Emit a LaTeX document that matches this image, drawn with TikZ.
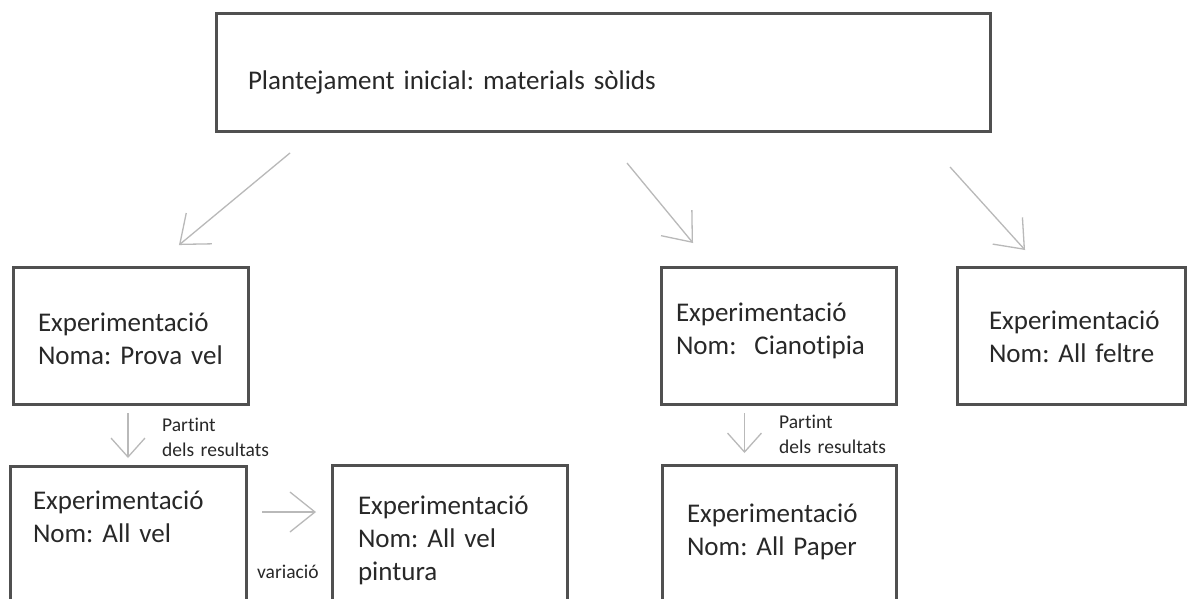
\documentclass[tikz,border=0pt]{standalone}
\usepackage{fontspec}
\setmainfont{Carlito}[Ligatures=NoCommon, WordSpace=0.8]
\usepackage{xcolor}
\usepackage{tikz}
\usetikzlibrary{arrows.meta, positioning, calc}
\definecolor{boxgrey}{RGB}{80,80,80}
\definecolor{textgrey}{RGB}{40,40,40}
\definecolor{arrowgrey}{RGB}{185,185,185}
\newcommand{\boxfont}{\fontsize{27}{33}\selectfont\frenchspacing}
\newcommand{\notefont}{\fontsize{19.5}{25}\selectfont\frenchspacing}
\hyphenpenalty=10000
\exhyphenpenalty=10000
\tikzset{
  expbox/.style={rectangle, draw=boxgrey, line width=3pt, outer sep=0pt, inner ysep=0pt, anchor=north west, align=left, font=\boxfont, text=textgrey},
  note/.style={anchor=base west, inner sep=0pt, align=left, text width=130pt, font=\notefont, text=textgrey},
  bigarrow/.style={-{Straight Barb[length=25pt,width=40pt]}, draw=arrowgrey, line width=1.3pt},
  smallarrow/.style={-{Straight Barb[length=19pt,width=34pt]}, draw=arrowgrey, line width=1.3pt},
}
\begin{document}
\begin{tikzpicture}[x=1pt, y=-1pt]
\useasboundingbox (0,0) rectangle (1189,598);
\fill[white] (0,0) rectangle (1189,598);
% boxes
\node (root)    [expbox, inner xsep=32pt, text width=710pt, text height=76pt, text depth=42pt] at (216,13) {Plantejament inicial: materials sòlids};
\node (prova)   [expbox, inner xsep=25pt, text width=185pt, text height=64pt, text depth=73pt] at (13,267) {Experimentació\\Noma:~Prova~vel};
\node (ciano)   [expbox, inner xsep=15pt, text width=205pt, text height=54pt, text depth=83pt] at (661,267) {Experimentació\\Nom:\ \ Cianotipia};
\node (feltre)  [expbox, inner xsep=32pt, text width=164pt, text height=62pt, text depth=75pt] at (957,267) {Experimentació\\Nom:~All~feltre};
\node (allvel)  [expbox, inner xsep=23pt, text width=190pt, text height=43pt, text depth=94pt] at (10,466) {Experimentació\\Nom: All vel};
\node (pintura) [expbox, inner xsep=26pt, text width=183pt, text height=49pt, text depth=88pt] at (332,465) {Experimentació\\Nom: All vel\\pintura};
\node (paper)   [expbox, inner xsep=25pt, text width=184pt, text height=57pt, text depth=80pt] at (662,465) {Experimentació\\Nom: All Paper};
% labels
\node (partA)    [note] at (162,431) {Partint\\dels resultats};
\node (partD)    [note] at (779,428) {Partint\\dels resultats};
\node (variacio) [note] at (257,578) {variació};
% arrows
\draw[bigarrow, shorten <=34.4pt, shorten >=34.4pt] ([xshift=100.5pt]root.south west) -- ([xshift=139.5pt]prova.north west);
\draw[bigarrow, shorten <=41.5pt, shorten >=31.1pt] ([xshift=384.6pt]root.south west) -- ([xshift=51.8pt]ciano.north west);
\draw[bigarrow, shorten <=48.5pt, shorten >=22.9pt] ([xshift=701.5pt]root.south west) -- ([xshift=83.4pt]feltre.north west);
\draw[smallarrow, shorten <=9pt, shorten >=8pt] (allvel.north |- prova.south) -- (allvel.north);
\draw[smallarrow, shorten <=9pt, shorten >=12pt] ([xshift=-34pt]ciano.south) -- ([xshift=-34pt]ciano.south |- paper.north);
\draw[bigarrow, shorten <=16pt, shorten >=16pt] ([yshift=22.5pt]allvel.east) -- ([yshift=22.5pt]allvel.east -| pintura.west);
\end{tikzpicture}
\end{document}
